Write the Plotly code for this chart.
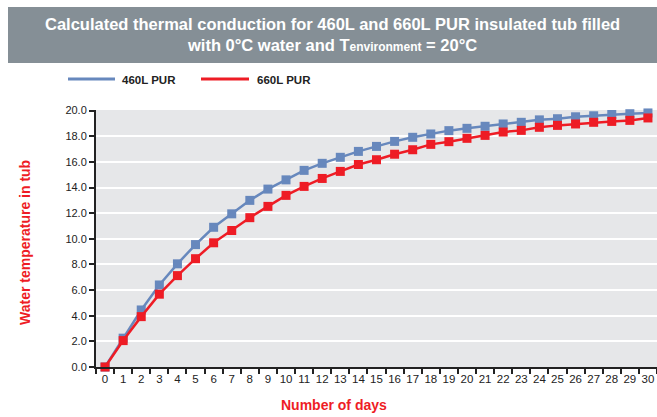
import plotly.graph_objects as go

days = [str(d) for d in range(31)]
pur460 = [0.0, 2.25, 4.45, 6.4, 8.05, 9.55, 10.9, 11.95, 13.0, 13.88, 14.6,
          15.34, 15.89, 16.36, 16.82, 17.21, 17.6, 17.92, 18.18, 18.44, 18.62,
          18.78, 18.96, 19.09, 19.28, 19.37, 19.52, 19.6, 19.7, 19.76, 19.82]
pur660 = [0.0, 2.06, 3.93, 5.68, 7.13, 8.45, 9.69, 10.65, 11.65, 12.53, 13.39,
          14.09, 14.71, 15.26, 15.8, 16.17, 16.6, 16.95, 17.37, 17.58, 17.84,
          18.07, 18.33, 18.46, 18.7, 18.85, 18.96, 19.09, 19.16, 19.24, 19.43]
yticks = [0, 2, 4, 6, 8, 10, 12, 14, 16, 18, 20]
ytick_labels = [f"{v:.1f}" for v in yticks]
series_names = ["460L PUR", "660L PUR"]
colors = ["#6788bd", "#ee1c25"]

W, H = 657, 417
L, R, T, B = 96, 0, 110, 50
PW, PH = W - L - R, H - T - B

def px(x):
    return (x - L) / PW

def py(y):
    return (H - B - y) / PH

FONT = "Liberation Sans, Arial, sans-serif"

fig = go.Figure()
for name, vals, col in zip(series_names, [pur460, pur660], colors):
    fig.add_trace(go.Scatter(
        x=days, y=vals, name=name, mode="lines+markers",
        line=dict(color=col, width=2.5),
        marker=dict(symbol="square", size=9, color=col),
        cliponaxis=False, showlegend=False,
    ))

shapes = [
    dict(type="rect", xref="paper", yref="paper",
         x0=px(8), x1=px(657), y0=py(63), y1=py(7),
         fillcolor="#858f96", line=dict(width=0), layer="below"),
]
annotations = [
    dict(xref="paper", yref="paper", x=px(332), y=py(35), xanchor="center", yanchor="middle",
         showarrow=False, align="center",
         text="<b>Calculated thermal conduction for 460L and 660L PUR insulated tub filled<br>"
              "with 0°C water and T<span style='font-size:12px'>environment</span> = 20°C</b>",
         font=dict(family=FONT, size=16.5, color="white")),
    dict(xref="paper", yref="paper", x=px(334), y=py(405), xanchor="center", yanchor="middle",
         showarrow=False, text="<b>Number of days</b>",
         font=dict(family=FONT, size=14, color="#ee1c25")),
    dict(xref="paper", yref="paper", x=px(25), y=py(243), xanchor="center", yanchor="middle",
         showarrow=False, textangle=-90, text="<b>Water temperature in tub</b>",
         font=dict(family=FONT, size=14, color="#ee1c25")),
]
# legend
leg = [(68, 115, 120), (201, 249, 255)]
for (x0, x1, tx), name, col in zip(leg, series_names, colors):
    shapes.append(dict(type="line", xref="paper", yref="paper",
                       x0=px(x0), x1=px(x1), y0=py(79), y1=py(79),
                       line=dict(color=col, width=3)))
    annotations.append(dict(xref="paper", yref="paper", x=px(tx), y=py(80),
                            xanchor="left", yanchor="middle", showarrow=False,
                            text=f"<b>{name}</b>",
                            font=dict(family=FONT, size=11.5, color="#222222")))

fig.update_layout(
    width=W, height=H,
    margin=dict(l=L, r=R, t=T, b=B, pad=0),
    paper_bgcolor="white", plot_bgcolor="#e6e7e9",
    shapes=shapes, annotations=annotations, showlegend=False,
    xaxis=dict(type="category", categoryorder="array", categoryarray=days,
               tickson="boundaries", ticks="outside", ticklen=5, tickwidth=2,
               tickcolor="#222", showline=True, linecolor="#222", linewidth=2,
               showgrid=False, range=[-0.5, 30.5], tickangle=0, automargin=False,
               tickfont=dict(family=FONT, size=11.5, color="#222")),
    yaxis=dict(range=[0, 20.05], tickvals=yticks, ticktext=ytick_labels,
               ticks="outside", ticklen=5, tickwidth=2, tickcolor="#222",
               showline=True, linecolor="#222", linewidth=2, automargin=False,
               showgrid=True, gridcolor="white", gridwidth=2, zeroline=False,
               tickfont=dict(family=FONT, size=11, color="#222")),
)
fig.write_html("out.html", config={"displayModeBar": False},
               post_script="document.body.style.margin='0px';")
